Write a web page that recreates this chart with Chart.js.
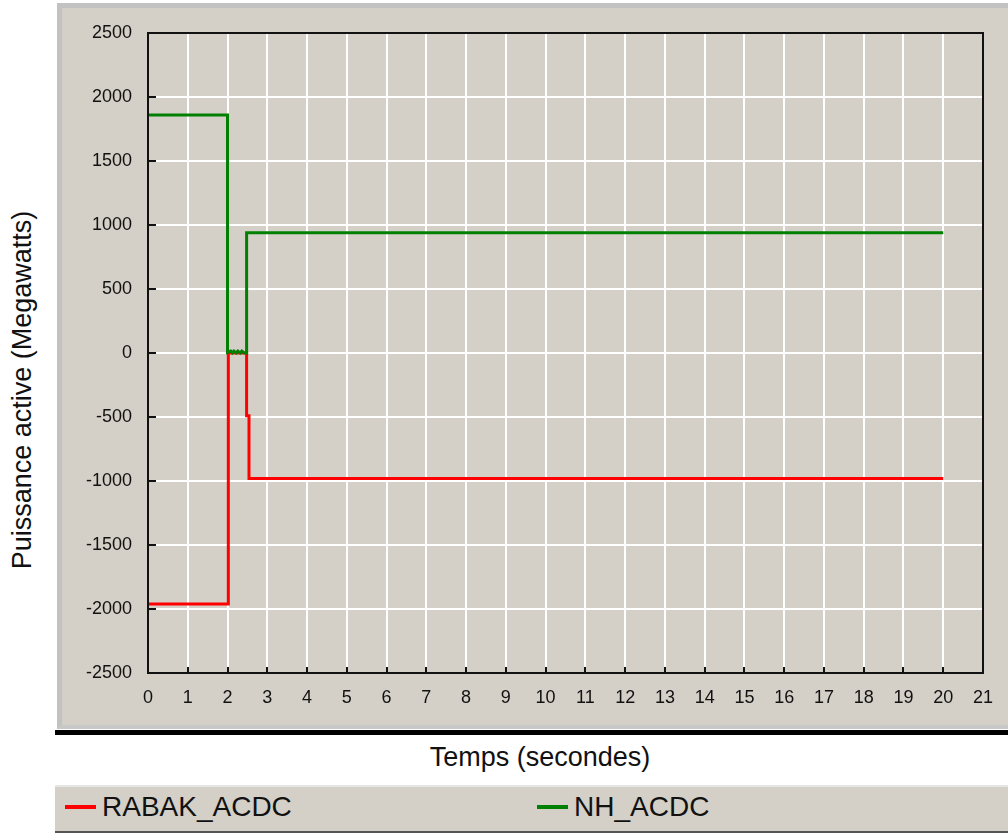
<!DOCTYPE html>
<html>
<head>
<meta charset="utf-8">
<script src="https://cdn.jsdelivr.net/npm/chart.js@4"></script>
<style>
  html, body { margin: 0; padding: 0; background: #ffffff; }
  #wrap { position: relative; width: 1008px; height: 834px; overflow: hidden; background: #ffffff; font-family: "Liberation Sans", Arial, sans-serif; }
  #panel { position: absolute; left: 57px; top: 3px; width: 960px; height: 726px; background: #d4d0c8; border-left: 5px solid #c2c2c2; border-top: 5px solid #c2c2c2; border-bottom: 4px solid #c8c8c8; box-sizing: border-box; }
  #blackbar { position: absolute; left: 55px; top: 730px; width: 960px; height: 5px; background: #000; }
  #legendbox { position: absolute; left: 55px; top: 785px; width: 960px; height: 48px; background: #d4d0c8; border-top: 2px solid #e6e6e6; border-bottom: 2px solid #555; box-sizing: border-box; }
  .leg { position: absolute; top: 790px; font-size: 28px; color: #111; line-height: 34px; white-space: nowrap; }
  .legline { display: inline-block; width: 31px; height: 4px; vertical-align: middle; margin-right: 6px; position: relative; top: -2px; }
  #xtitle { position: absolute; left: 0; width: 1080px; top: 742px; text-align: center; font-size: 27px; color: #111; }
  #ytitle { position: absolute; left: 22px; top: 390px; transform: translate(-50%, -50%) rotate(-90deg); font-size: 27px; color: #111; white-space: nowrap; }
  canvas { position: absolute; left: 0; top: 0; }
</style>
</head>
<body>
<div id="wrap">
  <div id="panel"></div>
  <div id="blackbar"></div>
  <div id="legendbox"></div>
  <div id="xtitle">Temps (secondes)</div>
  <div id="ytitle">Puissance active (Megawatts)</div>
  <div class="leg" style="left:65px;"><span class="legline" style="background:#ff0000"></span>RABAK_ACDC</div>
  <div class="leg" style="left:537px;"><span class="legline" style="background:#008000"></span>NH_ACDC</div>
  <canvas id="c" width="1008" height="834"></canvas>
</div>
<script>
// ---- data ----
const seriesNames = ["RABAK_ACDC", "NH_ACDC"];
const rabakTime  = [0,     2.02,  2.02, 2.48, 2.48, 2.54, 2.54, 20];
const rabakPower = [-1960, -1960, 0,    0,    -490, -490, -980, -980];
const nhTime  = [0,    2.0,  2.0, 2.08, 2.12, 2.16, 2.22, 2.26, 2.32, 2.36, 2.42, 2.48, 2.48, 20];
const nhPower = [1860, 1860, 5,   15,   0,    15,   0,    15,   0,    15,   0,    0,    940,  940];
const yTicksMin = -2500, yTicksMax = 2500, yStep = 500;
const xTicksMin = 0, xTicksMax = 21, xStep = 1;

function pts(t, v) { return t.map((x, i) => ({ x: x, y: v[i] })); }

const frame = {
  id: 'frame',
  afterDraw(chart) {
    const ctx = chart.ctx, a = chart.chartArea;
    const xs = chart.scales.x, ys = chart.scales.y;
    ctx.save();
    ctx.strokeStyle = '#111';
    ctx.lineWidth = 2;
    ctx.strokeRect(a.left, a.top, a.right - a.left, a.bottom - a.top);
    ctx.beginPath();
    ys.ticks.forEach(t => {
      const y = Math.round(ys.getPixelForValue(t.value));
      ctx.moveTo(a.left, y); ctx.lineTo(a.left + 8, y);
    });
    xs.ticks.forEach(t => {
      const x = Math.round(xs.getPixelForValue(t.value));
      ctx.moveTo(x, a.bottom); ctx.lineTo(x, a.bottom - 6);
    });
    ctx.stroke();
    ctx.restore();
  }
};

new Chart(document.getElementById('c'), {
  type: 'line',
  data: {
    datasets: [
      { label: seriesNames[0], data: pts(rabakTime, rabakPower), borderColor: '#ff0000', borderWidth: 3, pointRadius: 0, fill: false, tension: 0, order: 1 },
      { label: seriesNames[1], data: pts(nhTime, nhPower), borderColor: '#008000', borderWidth: 3, pointRadius: 0, fill: false, tension: 0, order: 0 }
    ]
  },
  options: {
    responsive: false,
    devicePixelRatio: 1,
    animation: false,
    layout: { padding: { left: 0, top: 33, right: 25, bottom: 0 } },
    plugins: { legend: { display: false }, tooltip: { enabled: false }, title: { display: false } },
    scales: {
      x: {
        type: 'linear', min: xTicksMin, max: xTicksMax,
        ticks: { stepSize: xStep, padding: 14, color: '#111', font: { family: 'Liberation Sans', size: 18 }, maxRotation: 0, callback: v => String(v) },
        grid: { color: '#ffffff', lineWidth: 2, drawTicks: false },
        border: { display: false },
        afterFit(s) { s.height = 161; }
      },
      y: {
        type: 'linear', min: yTicksMin, max: yTicksMax,
        ticks: { stepSize: yStep, padding: 16, color: '#111', font: { family: 'Liberation Sans', size: 18 }, callback: v => String(v) },
        grid: { color: '#ffffff', lineWidth: 2, drawTicks: false },
        border: { display: false },
        afterFit(s) { s.width = 148; }
      }
    }
  },
  plugins: [frame]
});
</script>
</body>
</html>
